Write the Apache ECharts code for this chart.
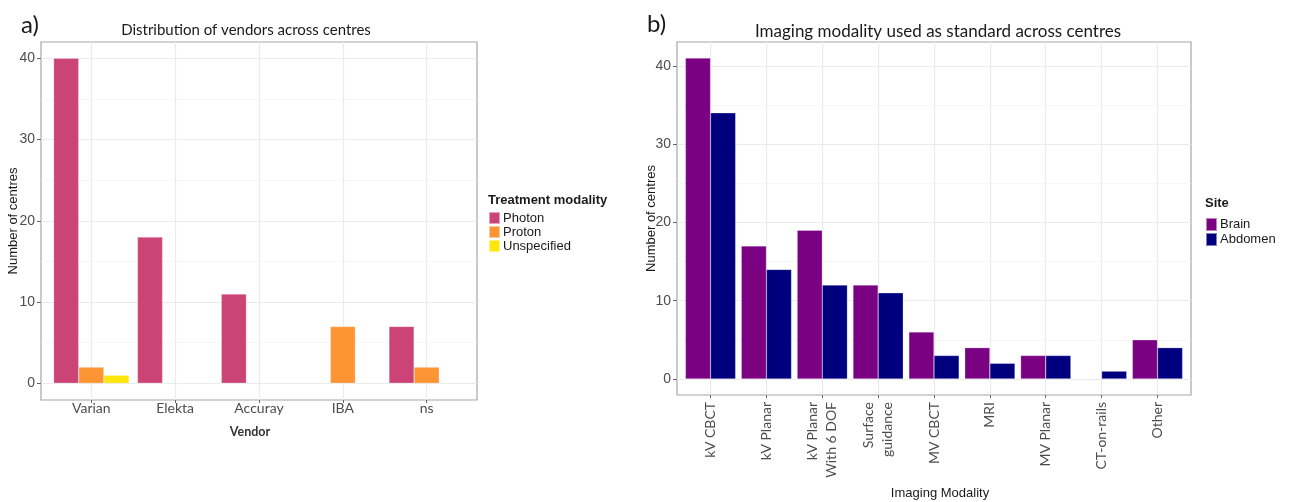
<!DOCTYPE html>
<html>
<head>
<meta charset="utf-8">
<script src="https://cdn.jsdelivr.net/npm/echarts@6/dist/echarts.min.js"></script>
<style>
  html, body { margin: 0; padding: 0; background: #fff; }
  #main { width: 1295px; height: 502px; }
</style>
</head>
<body>
<div id="main"></div>
<script>
// panel a) vendors
var vendors = ['Varian', 'Elekta', 'Accuray', 'IBA', 'ns'];
var photon = [40, 18, 11, null, 7];
var proton = [2, null, null, 7, 2];
var unspecified = [1, null, null, null, null];

// panel b) imaging modality
var modalities = ['kV CBCT', 'kV Planar', 'kV Planar\nWith 6 DOF', 'Surface\nguidance', 'MV CBCT',
  'MRI', 'MV Planar', 'CT-on-rails', 'Other'];
var brain = [41, 17, 19, 12, 6, 4, 3, null, 5];
var abdomen = [34, 14, 12, 11, 3, 2, 3, 1, 4];

var yMajor = [0, 10, 20, 30, 40];
var yMinor = [5, 15, 25, 35];

// values -> [x, y] pairs on a numeric x axis (1..n), like ggplot's discrete scale
function pairs(arr) {
  var out = [];
  arr.forEach(function (v, i) { if (v !== null) out.push([i + 1, v]); });
  return out;
}
function idx(n) {
  var out = [];
  for (var i = 1; i <= n; i++) out.push(i);
  return out;
}

var tickFont = 'Liberation Sans';
var catFont = 'Lato';

function xAxisFor(grid, names, nameText, nameGap, nameFont, rotate, margin, lh) {
  var ticks = idx(names.length);
  return {
    type: 'value', gridIndex: grid, min: 0.4, max: names.length + 0.6,
    name: nameText, nameLocation: 'middle', nameGap: nameGap, nameMoveOverlap: false,
    nameTextStyle: nameFont,
    axisLine: { show: false, onZero: false },
    axisTick: { show: true, length: 3, customValues: ticks, lineStyle: { color: '#666', width: 1 } },
    axisLabel: {
      customValues: ticks, rotate: rotate, margin: margin,
      fontFamily: catFont, fontSize: 14, color: '#4d4d4d', lineHeight: lh,
      formatter: function (v) { return names[Math.round(v) - 1]; }
    },
    splitLine: { show: true, lineStyle: { color: '#ebebeb', width: 1.2 } }
  };
}

function yAxisFor(grid, max, showName, gap) {
  return {
    type: 'value', gridIndex: grid, min: -2.05, max: max,
    name: showName ? 'Number of centres' : '', nameLocation: 'middle', nameGap: gap, nameMoveOverlap: false,
    nameTextStyle: { fontFamily: tickFont, fontSize: 13, color: '#1a1a1a' },
    axisLine: { show: false, onZero: false },
    axisTick: { show: showName, length: 4, customValues: showName ? yMajor : yMinor, lineStyle: { color: '#666' } },
    axisLabel: { show: showName, customValues: yMajor, fontFamily: tickFont, fontSize: 14, color: '#4d4d4d', margin: 6 },
    splitLine: { show: true, lineStyle: { color: showName ? '#ebebeb' : '#f4f4f4', width: showName ? 1.2 : 0.7 } }
  };
}

function bars(name, data, color, xi, yi) {
  return {
    name: name, type: 'bar', xAxisIndex: xi, yAxisIndex: yi, data: pairs(data),
    barGap: '0%', barCategoryGap: '10%',
    itemStyle: { color: color, borderColor: 'rgba(255,255,255,0.5)', borderWidth: 0.5 },
    emphasis: { disabled: true }
  };
}

var myecharts = echarts.init(document.getElementById('main'));
var option = {
  animation: false,
  backgroundColor: '#fff',
  grid: [
    { left: 41, right: 818, top: 42, bottom: 102, outerBoundsMode: 'none', show: true, borderColor: '#a6a6a6', borderWidth: 1.2, backgroundColor: '#fff' },
    { left: 677, right: 104, top: 42, bottom: 107, outerBoundsMode: 'none', show: true, borderColor: '#a6a6a6', borderWidth: 1.2, backgroundColor: '#fff' }
  ],
  xAxis: [
    xAxisFor(0, vendors, 'Vendor', 25, { fontFamily: catFont, fontSize: 12.5, fontWeight: 'bold', color: '#333', padding: [0, 18, 0, 0] }, 0, 1, 14),
    xAxisFor(1, modalities, 'Imaging Modality', 92, { fontFamily: tickFont, fontSize: 13, color: '#1a1a1a', padding: [0, 0, 0, 12] }, 90, 7, 19)
  ],
  yAxis: [
    yAxisFor(0, 42, true, 21),
    yAxisFor(0, 42, false, 21),
    yAxisFor(1, 43.05, true, 19),
    yAxisFor(1, 43.05, false, 19)
  ],
  legend: [
    {
      data: ['Photon', 'Proton', 'Unspecified'], orient: 'vertical', left: 488, top: 211,
      icon: 'rect', itemWidth: 11, itemHeight: 12, itemGap: 0, padding: 0, selectedMode: false,
      textStyle: { fontFamily: tickFont, fontSize: 13, color: '#1a1a1a', lineHeight: 12, padding: [0, 0, 0, -2] }
    },
    {
      data: ['Brain', 'Abdomen'], orient: 'vertical', left: 1205, top: 217,
      icon: 'rect', itemWidth: 11, itemHeight: 13, itemGap: 0, padding: 0, selectedMode: false,
      textStyle: { fontFamily: tickFont, fontSize: 13, color: '#1a1a1a', lineHeight: 13, padding: [0, 0, 0, -2] }
    }
  ],
  graphic: [
    { type: 'text', style: { x: 21, y: 25, text: 'a)', font: '24px Lato', fill: '#1a1a1a', textVerticalAlign: 'middle' } },
    { type: 'text', style: { x: 246, y: 30, text: 'Distribution of vendors across centres', font: '15px Lato', fill: '#1a1a1a', textAlign: 'center', textVerticalAlign: 'middle' } },
    { type: 'text', style: { x: 647, y: 24, text: 'b)', font: '24px Lato', fill: '#1a1a1a', textVerticalAlign: 'middle' } },
    { type: 'text', style: { x: 938, y: 32, text: 'Imaging modality used as standard across centres', font: '17px Lato', fill: '#1a1a1a', textAlign: 'center', textVerticalAlign: 'middle' } },
    { type: 'text', style: { x: 488, y: 200, text: 'Treatment modality', font: 'bold 13px "Liberation Sans"', fill: '#1a1a1a', textVerticalAlign: 'middle' } },
    { type: 'text', style: { x: 1205, y: 203, text: 'Site', font: 'bold 13px "Liberation Sans"', fill: '#1a1a1a', textVerticalAlign: 'middle' } }
  ],
  series: [
    bars('Photon', photon, '#cc4475', 0, 0),
    bars('Proton', proton, '#fe9535', 0, 0),
    bars('Unspecified', unspecified, '#ffe60a', 0, 0),
    bars('Brain', brain, '#7a0182', 1, 2),
    bars('Abdomen', abdomen, '#00007f', 1, 2)
  ]
};
myecharts.setOption(option);
</script>
</body>
</html>
